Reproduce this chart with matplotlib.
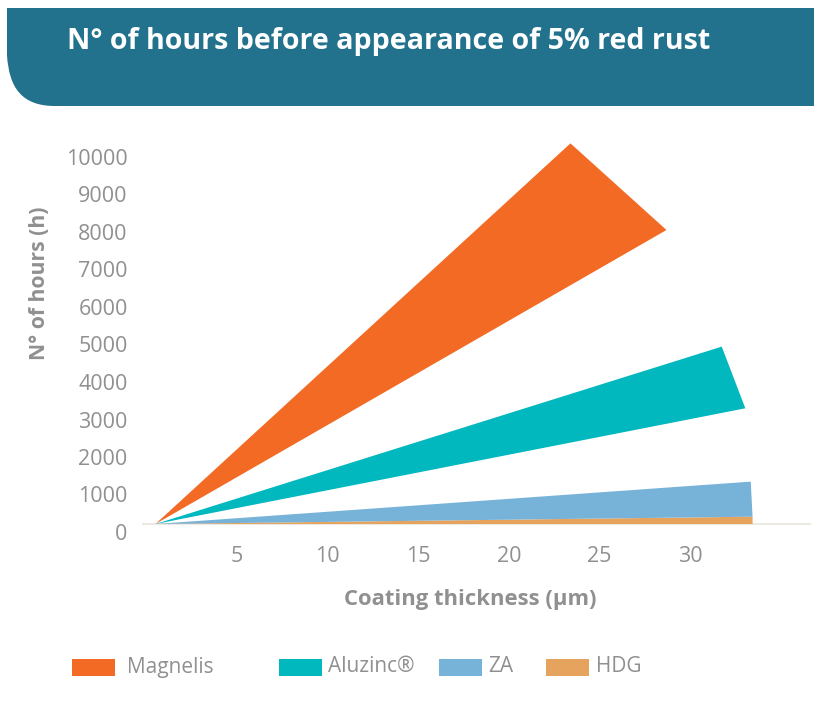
import numpy as np
import matplotlib
matplotlib.use('Agg')
import matplotlib.pyplot as plt
from matplotlib.patches import PathPatch, Rectangle
from matplotlib.path import Path
from matplotlib.transforms import ScaledTranslation

# data (coating thickness in um, hours)
series = ['Magnelis', 'Aluzinc®', 'ZA', 'HDG']
colors = ['#f26a24', '#00b8be', '#77b2d8', '#e5a35e']
start_x = 0.5
upper_x = [23.4, 31.75, 33.35, 33.45]
upper_y = [10150, 4730, 1130, 195]
lower_x = [28.7, 33.05, 33.45, 33.45]
lower_y = [7840, 3085, 195, 0]

x_ticks = [5, 10, 15, 20, 25, 30]
y_ticks = list(range(0, 10001, 1000))

title = 'N° of hours before appearance of 5% red rust'
xlabel = 'Coating thickness (µm)'
ylabel = 'N° of hours (h)'

W, H = 814, 717
gray = '#909090'
banner_col = '#22718d'


def fx(px):
    return px / W


def fy(py):
    return (H - py) / H


fig = plt.figure(figsize=(W / 100, H / 100), dpi=100)

# header banner with rounded lower-left corner
verts = [(7, 8), (W, 8), (W, 106), (55, 106), (22, 106), (9, 88), (7, 55), (7, 8)]
codes = [Path.MOVETO, Path.LINETO, Path.LINETO, Path.LINETO,
         Path.CURVE4, Path.CURVE4, Path.CURVE4, Path.CLOSEPOLY]
banner = PathPatch(Path([(fx(a), fy(b)) for a, b in verts], codes),
                   transform=fig.transFigure, facecolor=banner_col, edgecolor='none')
fig.add_artist(banner)
fig.text(fx(67), fy(42), title, color='white', fontsize=20.6, fontweight='bold',
         family='Open Sans', va='center', ha='left')

# axes
ax = fig.add_axes([fx(143), fy(524), fx(810) - fx(143), (524 - 140) / H])
ax.set_xlim(-0.19, 36.62)
ax.set_ylim(0, 10240)

for i in range(len(series)):
    xs = [start_x, upper_x[i], lower_x[i]]
    ys = [0, upper_y[i], lower_y[i]]
    ax.fill(xs, ys, color=colors[i], lw=0, zorder=3 - i * 0.1)

for s in ['top', 'right', 'left']:
    ax.spines[s].set_visible(False)
ax.spines['bottom'].set_color('#ece8e2')
ax.spines['bottom'].set_linewidth(1.5)

ax.set_xticks(x_ticks)
ax.set_yticks(y_ticks)
ax.tick_params(axis='both', length=0, colors=gray, labelsize=15.5)
ax.tick_params(axis='x', pad=16)
ax.tick_params(axis='y', pad=11)
for lab in ax.get_xticklabels() + ax.get_yticklabels():
    lab.set_family('Open Sans')
# labels in the reference sit a little below their value
off = ScaledTranslation(0, -8 / 100, fig.dpi_scale_trans)
for lab in ax.get_yticklabels():
    lab.set_transform(lab.get_transform() + off)

fig.text(fx(470), fy(600), xlabel, color=gray, fontsize=15.8, fontweight='bold',
         family='Open Sans', ha='center', va='center')
fig.text(fx(40), fy(283), ylabel, color=gray, fontsize=15.2, fontweight='bold',
         family='Open Sans', ha='center', va='center', rotation=90)

# legend drawn by hand
patch_x = [72, 279, 439, 546]
text_x = [127, 328, 488, 596]
for i in range(len(series)):
    fig.add_artist(Rectangle((fx(patch_x[i]), fy(676)), 43 / W, 17 / H,
                             transform=fig.transFigure, facecolor=colors[i],
                             edgecolor='none'))
    fig.text(fx(text_x[i]), fy(667), series[i], color=gray, fontsize=15,
             family='Open Sans', ha='left', va='center')

fig.savefig('out.png', dpi=100)
